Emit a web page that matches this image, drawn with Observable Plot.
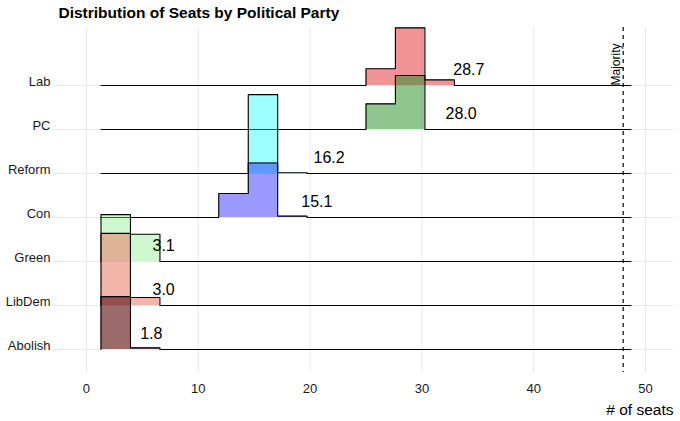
<!DOCTYPE html>
<html>
<head>
<meta charset="utf-8">
<script src="https://cdn.jsdelivr.net/npm/d3@7"></script>
<script src="https://cdn.jsdelivr.net/npm/@observablehq/plot@0.6"></script>
<style>
  html, body { margin: 0; padding: 0; background: #fff; }
  svg { display: block; }
</style>
</head>
<body>
<div id="chart"></div>
<script>
// ---- data ----
const parties = ["Lab", "PC", "Reform", "Con", "Green", "LibDem", "Abolish"];
const meanSeats = [28.7, 28.0, 16.2, 15.1, 3.1, 3.0, 1.8];
const labelX = [34.2, 33.5, 21.7, 20.6, 6.9, 6.9, 5.8];
const binEdges = [1.3, 3.93, 6.57, 9.2, 11.83, 14.47, 17.1, 19.73, 22.37, 25.0,
                  27.63, 30.27, 32.9, 35.53, 38.17, 40.8, 43.43, 46.07, 48.7];
const labProb     = [0, 0, 0, 0, 0, 0, 0, 0, 0, 0.21, 0.72, 0.07, 0, 0, 0, 0, 0, 0];
const pcProb      = [0, 0, 0, 0, 0, 0, 0, 0, 0, 0.32, 0.675, 0, 0, 0, 0, 0, 0, 0];
const reformProb  = [0, 0, 0, 0, 0, 0.985, 0.01, 0, 0, 0, 0, 0, 0, 0, 0, 0, 0, 0];
const conProb     = [0, 0, 0, 0, 0.30, 0.68, 0.017, 0, 0, 0, 0, 0, 0, 0, 0, 0, 0, 0];
const greenProb   = [0.585, 0.34, 0, 0, 0, 0, 0, 0, 0, 0, 0, 0, 0, 0, 0, 0, 0, 0];
const libdemProb  = [0.90, 0.10, 0, 0, 0, 0, 0, 0, 0, 0, 0, 0, 0, 0, 0, 0, 0, 0];
const abolishProb = [0.66, 0.02, 0, 0, 0, 0, 0, 0, 0, 0, 0, 0, 0, 0, 0, 0, 0, 0];
const majority = 48;

const probs = [labProb, pcProb, reformProb, conProb, greenProb, libdemProb, abolishProb];

// ---- style ----
const fills = ["#e62a2d", "forestgreen", "cyan", "blue", "lightgreen", "#e9856e", "#580808"];
const fillOpacity = [0.5, 0.5, 0.38, 0.4, 0.42, 0.6, 0.6];
const ridgeScale = 1.82;
const font = "'Liberation Sans', Arial, Helvetica, sans-serif";

const nRows = parties.length;
const baseOf = i => nRows - 1 - i;

const ridgeData = parties.map((p, i) => {
  const base = baseOf(i);
  const pts = [{party: p, x: binEdges[0], y: base, base}];
  probs[i].forEach((v, j) => pts.push({party: p, x: binEdges[j], y: base + v * ridgeScale, base}));
  pts.push({party: p, x: binEdges[binEdges.length - 1], y: base, base});
  return pts;
});

const labels = parties.map((p, i) => ({party: p, x: labelX[i], y: baseOf(i), text: meanSeats[i].toFixed(1)}));

const ridgeMarks = ridgeData.flatMap((pts, i) => [
  Plot.areaY(pts, {x: "x", y1: "base", y2: "y", curve: "step-after", fill: fills[i], fillOpacity: fillOpacity[i]}),
  Plot.line(pts, {x: "x", y: "y", curve: "step-after", stroke: "#000", strokeWidth: 1.1})
]);

const chart = Plot.plot({
  width: 680,
  height: 421,
  marginTop: 27,
  marginBottom: 49,
  marginLeft: 54,
  marginRight: 7,
  style: {fontFamily: font, background: "#fff", color: "#1a1a1a"},
  x: {domain: [-2.86, 52.5]},
  y: {domain: [-0.523, 7.318]},
  marks: [
    Plot.gridX({ticks: [0, 10, 20, 30, 40, 50], stroke: "#e8e8e8", strokeOpacity: 1, strokeWidth: 1}),
    Plot.gridY({ticks: d3.range(nRows), stroke: "#e8e8e8", strokeOpacity: 1, strokeWidth: 1}),
    Plot.axisX({ticks: [0, 10, 20, 30, 40, 50], tickSize: 0, tickPadding: 11, fontSize: 13, label: null}),
    Plot.axisY({ticks: d3.range(nRows), tickFormat: d => parties[nRows - 1 - d], tickSize: 0, tickPadding: 4, dy: -4, fontSize: 13, label: null}),
    ...ridgeMarks,
    Plot.ruleX([majority], {stroke: "#000", strokeWidth: 1.2, strokeDasharray: "4,4"}),
    Plot.text(["Majority"], {x: majority, y: baseOf(0), rotate: -90, textAnchor: "start", lineAnchor: "bottom", dx: -3, fontSize: 12, fill: "#000"}),
    Plot.text(labels, {x: "x", y: "y", text: "text", dy: -16, fontSize: 16, fill: "#000", lineAnchor: "middle"}),
    Plot.text(["Distribution of Seats by Political Party"], {frameAnchor: "top-left", dx: 4, dy: -14.5, lineAnchor: "middle", textAnchor: "start", fontSize: 15.5, fontWeight: "bold", fill: "#000"}),
    Plot.text(["# of seats"], {frameAnchor: "bottom-right", dy: 38, lineAnchor: "middle", textAnchor: "end", fontSize: 15.5, fill: "#000"})
  ]
});
document.getElementById("chart").append(chart);
</script>
</body>
</html>
